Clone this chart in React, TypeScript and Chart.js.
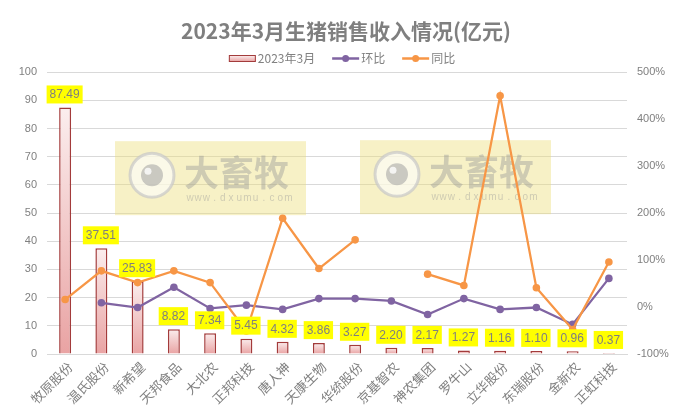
import React, { useEffect, useRef } from "react";
import { Chart, registerables } from "chart.js";

Chart.register(...registerables);

const categories = ["牧原股份", "温氏股份", "新希望", "天邦食品", "大北农", "正邦科技", "唐人神", "天康生物", "华统股份", "京基智农", "神农集团", "罗牛山", "立华股份", "东瑞股份", "金新农", "正虹科技"];
const revenue = [87.49, 37.51, 25.83, 8.82, 7.34, 5.45, 4.32, 3.86, 3.27, 2.2, 2.17, 1.27, 1.16, 1.1, 0.96, 0.37];
const momPct = [null, 9, -1, 42, -3, 4, -5, 18, 18, 13, -16, 18, -5, -1, -37, 61];
const yoyPct = [16, 77, 52, 77, 52, -51, 189, 82, 143, null, 70, 46, 450, 41, -48, 96];

const titleText = "2023年3月生猪销售收入情况(亿元)";
const seriesNames = ["2023年3月", "环比", "同比"];

const PURPLE = "#8064a2";
const ORANGE = "#f79646";
const BAR_BORDER = "#a33b3b";
const TEXT = "#808080";
const GRID = "#d9d9d9";
const CJK = '"Noto Sans CJK SC", sans-serif';
const LAT = '"Liberation Sans", Arial, sans-serif';

function barGradient(ctx: CanvasRenderingContext2D, top: number, bottom: number) {
  const g = ctx.createLinearGradient(0, top, 0, bottom);
  g.addColorStop(0, "#fbeeee");
  g.addColorStop(1, "#e9a3a3");
  return g;
}

function drawWatermark(ctx: CanvasRenderingContext2D, x: number, y: number) {
  ctx.save();
  ctx.fillStyle = "rgba(236,222,120,0.42)";
  ctx.fillRect(x, y, 191, 74);
  const cx = x + 37, cy = y + 34;
  ctx.beginPath();
  ctx.arc(cx, cy, 22, 0, Math.PI * 2);
  ctx.fillStyle = "rgba(255,255,255,0.6)";
  ctx.fill();
  ctx.lineWidth = 3;
  ctx.strokeStyle = "rgba(200,200,200,0.7)";
  ctx.stroke();
  ctx.beginPath();
  ctx.arc(cx, cy, 11, 0, Math.PI * 2);
  ctx.fillStyle = "rgba(160,160,160,0.55)";
  ctx.fill();
  ctx.beginPath();
  ctx.arc(cx - 4, cy - 4, 3.5, 0, Math.PI * 2);
  ctx.fillStyle = "rgba(255,255,255,0.8)";
  ctx.fill();
  ctx.fillStyle = "rgba(150,150,150,0.42)";
  ctx.font = `bold 35px ${CJK}`;
  ctx.textBaseline = "middle";
  ctx.textAlign = "left";
  ctx.fillText("大畜牧", x + 69, y + 32);
  ctx.font = `10px ${LAT}`;
  ctx.textAlign = "center";
  const url = "www.dxumu.com";
  for (let i = 0; i < url.length; i++) {
    ctx.fillText(url[i], x + 75 + i * 8.2, y + 57);
  }
  ctx.restore();
}

const watermarkPlugin = {
  id: "watermark",
  beforeDatasetsDraw(chart: any) {
    const { ctx, chartArea } = chart;
    drawWatermark(ctx, chartArea.left + 68, chartArea.top + 69);
    drawWatermark(ctx, chartArea.left + 313, chartArea.top + 68);
  },
};

const barLabelPlugin = {
  id: "barLabels",
  afterDatasetsDraw(chart: any) {
    const meta = chart.getDatasetMeta(0);
    const ctx = chart.ctx as CanvasRenderingContext2D;
    ctx.save();
    ctx.font = `12px ${LAT}`;
    ctx.textAlign = "center";
    ctx.textBaseline = "middle";
    meta.data.forEach((el: any, i: number) => {
      const txt = revenue[i].toFixed(2);
      const w = ctx.measureText(txt).width + 6;
      const h = 18;
      const cx = el.x - 0.5;
      const bottom = el.y - 4;
      ctx.fillStyle = "#ffff00";
      ctx.fillRect(cx - w / 2, bottom - h, w, h);
      ctx.fillStyle = "#7f7f7f";
      ctx.fillText(txt, cx, bottom - h / 2 + 0.5);
    });
    ctx.restore();
  },
};

const legendPlugin = {
  id: "customLegend",
  afterDraw(chart: any) {
    const ctx = chart.ctx as CanvasRenderingContext2D;
    ctx.save();
    ctx.font = `12px ${CJK}`;
    ctx.textBaseline = "middle";
    ctx.textAlign = "left";
    const iconW = 27, gapIcon = 2, gapItem = 17;
    const widths = seriesNames.map((t) => iconW + gapIcon + ctx.measureText(t).width);
    const total = widths.reduce((a, b) => a + b, 0) + gapItem * (widths.length - 1);
    let x = (chart.width - total) / 2 - 4;
    const y = 58.5;
    seriesNames.forEach((name, i) => {
      if (i === 0) {
        ctx.fillStyle = barGradient(ctx, y - 3, y + 3);
        ctx.fillRect(x, y - 3, iconW, 6);
        ctx.strokeStyle = BAR_BORDER;
        ctx.lineWidth = 1;
        ctx.strokeRect(x + 0.5, y - 3, iconW - 1, 6);
      } else {
        const c = i === 1 ? PURPLE : ORANGE;
        ctx.strokeStyle = c;
        ctx.lineWidth = 2.5;
        ctx.beginPath();
        ctx.moveTo(x, y);
        ctx.lineTo(x + iconW, y);
        ctx.stroke();
        ctx.beginPath();
        ctx.arc(x + iconW / 2, y, 3.5, 0, Math.PI * 2);
        ctx.fillStyle = c;
        ctx.fill();
      }
      ctx.fillStyle = TEXT;
      ctx.fillText(name, x + iconW + gapIcon, y);
      x += widths[i] + gapItem;
    });
    ctx.restore();
  },
};

export default function App() {
  const ref = useRef<HTMLCanvasElement>(null);
  useEffect(() => {
    if (!ref.current) return;
    const chart = new Chart(ref.current, {
      type: "bar",
      data: {
        labels: categories,
        datasets: [
          {
            type: "bar",
            label: seriesNames[0],
            data: revenue,
            yAxisID: "y",
            order: 2,
            backgroundColor: (c: any) => {
              const ch = c.chart;
              const ys = ch.scales?.y;
              const v = c.raw;
              if (!ys || typeof v !== "number") return "#f2c7c7";
              const top = ys.getPixelForValue(v);
              const bottom = ys.getPixelForValue(0);
              if (!isFinite(top) || !isFinite(bottom) || top === bottom) return "#f2c7c7";
              return barGradient(ch.ctx, top, bottom);
            },
            borderColor: BAR_BORDER,
            borderWidth: 1.5,
            barPercentage: 0.33,
            categoryPercentage: 1,
          },
          {
            type: "line",
            label: seriesNames[1],
            data: momPct,
            yAxisID: "y1",
            order: 1,
            borderColor: PURPLE,
            backgroundColor: PURPLE,
            borderWidth: 2.25,
            pointRadius: 3.8,
            pointBorderWidth: 0,
            tension: 0,
            spanGaps: false,
          },
          {
            type: "line",
            label: seriesNames[2],
            data: yoyPct,
            yAxisID: "y1",
            order: 0,
            borderColor: ORANGE,
            backgroundColor: ORANGE,
            borderWidth: 2.25,
            pointRadius: 3.8,
            pointBorderWidth: 0,
            tension: 0,
            spanGaps: false,
          },
        ],
      },
      options: {
        responsive: false,
        animation: false,
        layout: { padding: { left: 0, right: 0, top: 0, bottom: 0 } },
        plugins: {
          legend: { display: false },
          tooltip: { enabled: false },
          title: {
            display: true,
            text: titleText,
            color: "#7f7f7f",
            font: { family: CJK, size: 21, weight: "bold" },
            padding: { top: 18, bottom: 29 },
          },
        },
        scales: {
          x: {
            grid: { display: false, drawTicks: false },
            border: { display: true, color: GRID },
            ticks: {
              autoSkip: false,
              minRotation: 45,
              maxRotation: 45,
              padding: 5,
              labelOffset: 5,
              color: TEXT,
              font: { family: CJK, size: 13 },
            },
            afterFit: (s: any) => { s.height = 54; },
          },
          y: {
            position: "left",
            min: 0,
            max: 100,
            grid: { color: GRID, drawTicks: false },
            border: { display: false },
            ticks: { stepSize: 10, padding: 10, color: TEXT, font: { family: LAT, size: 11 } },
            afterFit: (s: any) => { s.width = 47; },
          },
          y1: {
            position: "right",
            min: -100,
            max: 500,
            grid: { display: false, drawTicks: false },
            border: { display: false },
            ticks: {
              stepSize: 100,
              padding: 10,
              color: TEXT,
              font: { family: LAT, size: 11 },
              callback: (v: any) => `${v}%`,
            },
            afterFit: (s: any) => { s.width = 65; },
          },
        },
      },
      plugins: [watermarkPlugin, barLabelPlugin, legendPlugin],
    });
    return () => chart.destroy();
  }, []);
  return (
    <div style={{ position: "absolute", left: 0, top: 0, width: 692, height: 408, background: "#fff" }}>
      <canvas ref={ref} width={692} height={408} />
    </div>
  );
}
